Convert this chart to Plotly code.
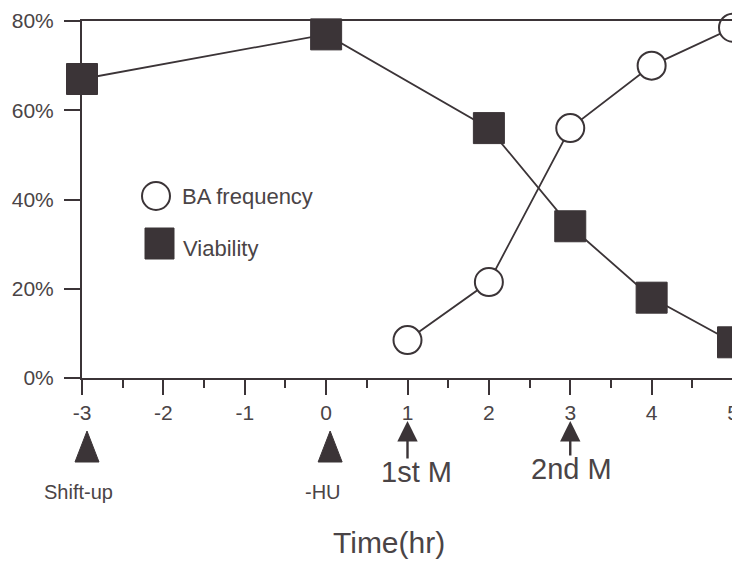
import plotly.graph_objects as go

# Data
time_via = [-3, 0, 2, 3, 4, 5]
viability = [67, 77, 56, 34, 18, 8]
time_ba = [1, 2, 3, 4, 5]
ba_freq = [8.5, 21.5, 56, 70, 78.5]

x_ticks = [-3, -2, -1, 0, 1, 2, 3, 4, 5]
x_labels = ["-3", "-2", "-1", "0", "1", "2", "3", "4", "5"]
y_ticks = [0, 20, 40, 60, 80]
y_labels = ["0%", "20%", "40%", "60%", "80%"]

INK = "#3b3437"
TXT = "#4a4446"
FONT = "Liberation Sans, Arial, sans-serif"

OFF = 8  # page body margin
W, H = 740 - OFF, 561 - OFF
L, T = 82 - OFF, 21 - OFF
PR, PB = 733 - OFF, 378 - OFF
R, B = W - PR, H - PB
PW, PH = PR - L, PB - T


def px(sx):
    return (sx - OFF - L) / PW


def py(sy):
    return (PB - (sy - OFF)) / PH


def dx(xv):
    return (xv - (-3)) / 8


fig = go.Figure()
fig.add_trace(go.Scatter(
    x=time_via, y=viability, mode="lines+markers", name="Viability",
    line=dict(color=INK, width=1.8),
    marker=dict(symbol="square", size=31, color=INK, line=dict(color=INK, width=1)),
    cliponaxis=False, showlegend=False))
fig.add_trace(go.Scatter(
    x=time_ba, y=ba_freq, mode="lines+markers", name="BA frequency",
    line=dict(color=INK, width=1.8),
    marker=dict(symbol="circle", size=28, color="white", line=dict(color=INK, width=2)),
    cliponaxis=False, showlegend=False))


def tri(xv, shift):
    xc = dx(xv) + shift / PW
    hw = 12 / PW
    return dict(type="path", xref="paper", yref="paper",
                path=f"M {xc - hw} {py(462)} L {xc + hw} {py(462)} L {xc} {py(431)} Z",
                fillcolor=INK, line=dict(color=INK, width=1))


shapes = [
    # legend symbols
    dict(type="circle", xref="paper", yref="paper",
         x0=px(142), x1=px(170), y0=py(210), y1=py(182),
         line=dict(color=INK, width=2), fillcolor="white"),
    dict(type="rect", xref="paper", yref="paper",
         x0=px(145), x1=px(174), y0=py(259), y1=py(228),
         line=dict(color=INK, width=1), fillcolor=INK),
    tri(-3, 5), tri(0, 4),
]


def txt(x, y, s, size, xanchor="center", xref="paper", xshift=0):
    return dict(x=x, y=y, xref=xref, yref="paper", text=s, showarrow=False,
                xanchor=xanchor, yanchor="middle", xshift=xshift,
                font=dict(size=size, color=TXT, family=FONT))


annotations = [
    txt(px(180), py(196), "BA frequency", 22, xanchor="left"),
    txt(px(181), py(248), "Viability", 22, xanchor="left"),
    txt(-3, py(492), "Shift-up", 20, xref="x", xshift=-4),
    txt(0, py(492), "-HU", 20, xref="x", xshift=-3),
    txt(1, py(472), "1st M", 29, xref="x", xshift=9),
    txt(3, py(469), "2nd M", 29, xref="x", xshift=1),
    txt(px(389), py(542), "Time(hr)", 30),
    # arrows
    dict(x=1, y=py(421), xref="x", yref="paper", text="", showarrow=True,
         ax=0, ay=39, arrowhead=2, arrowsize=1.7, arrowwidth=2.4, arrowcolor=INK),
    dict(x=3, y=py(421), xref="x", yref="paper", text="", showarrow=True,
         ax=0, ay=36, arrowhead=2, arrowsize=1.7, arrowwidth=2.4, arrowcolor=INK),
]

fig.update_layout(
    width=W, height=H,
    margin=dict(l=L, r=R, t=T, b=B, autoexpand=False),
    paper_bgcolor="white", plot_bgcolor="white",
    shapes=shapes, annotations=annotations,
    font=dict(family=FONT, color=TXT),
)
fig.update_xaxes(
    range=[-3, 5], tickvals=x_ticks, ticktext=x_labels, showgrid=False, zeroline=False,
    showline=True, linecolor=INK, linewidth=2, mirror=True, automargin=False,
    ticks="outside", ticklen=15, tickwidth=2, tickcolor=INK,
    tickfont=dict(size=21, color=TXT, family=FONT),
    minor=dict(dtick=0.5, tick0=-3, ticks="outside", ticklen=8, tickwidth=2,
               tickcolor=INK, showgrid=False),
)
fig.update_yaxes(
    range=[0, 80], tickvals=y_ticks, ticktext=y_labels, showgrid=False,
    zeroline=False, showline=True, linecolor=INK, linewidth=2, mirror=True,
    automargin=False, ticklabelstandoff=6,
    ticks="outside", ticklen=16, tickwidth=2, tickcolor=INK,
    tickfont=dict(size=21, color=TXT, family=FONT),
)

fig.write_html("out.html")
